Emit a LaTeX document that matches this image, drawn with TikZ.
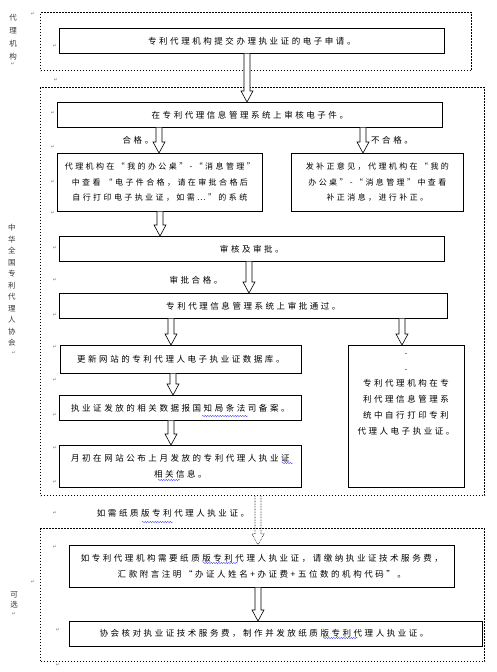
\documentclass[tikz,border=0pt]{standalone}
\usepackage{fontspec}
\setmainfont{Noto Sans CJK SC}[LetterSpace=30]
\newfontfamily\pmfont{DejaVu Sans}
\usetikzlibrary{calc,decorations.pathmorphing}
\newcommand\harrow[4][]{\path[harr,#1] let \p1=(#2 -| #4,0), \p2=(#3 -| #4,0) in (\x1-3pt,\y1) -- (\x1-3pt,\y2+11pt) -- (\x1-6pt,\y2+11pt) -- (\x2,\y2) -- (\x1+6pt,\y2+11pt) -- (\x1+3pt,\y2+11pt) -- (\x1+3pt,\y1);}
\begin{document}
\begin{tikzpicture}[x=1pt,y=-1pt,
  box/.style={draw, line width=0.7pt, inner sep=0pt, anchor=north west, font=\fontsize{8.5}{16}\selectfont, align=center},
  smallbox/.style={box, font=\fontsize{8}{15.5}\selectfont},
  txt/.style={font=\fontsize{8.5}{16}\selectfont, align=center, inner sep=0pt},
  grp/.style={draw, line width=1.4pt, dash pattern=on 1.4pt off 1.6pt, inner sep=0pt, anchor=north west},
  lbl/.style={font=\fontsize{7.5}{11.5}\selectfont, align=center, inner sep=0pt, text=black!80},
  pm/.style={font=\pmfont\fontsize{5}{5}\selectfont, text=black!50, inner sep=0pt},
  harr/.style={draw, line width=0.6pt, fill=white},
  wavy/.style={draw=blue!70, line width=0.4pt, decorate, decoration={snake, amplitude=0.7pt, segment length=2.5pt}}
]
\useasboundingbox (0,0) rectangle (497,672);
% groups
\node[grp, minimum width=431, minimum height=58] (g1) at (40,12) {};
\node[grp, minimum width=444, minimum height=408] (g2) at (40,87) {};
\node[grp, minimum width=444, minimum height=133] (g3) at (40,528) {};
% side labels
\node[lbl, font=\fontsize{7.5}{13}\selectfont] (v1) at (13,37) {代\\理\\机\\构};
\node[lbl] (v2) at (12,285.5) {中\\华\\全\\国\\专\\利\\代\\理\\人\\协\\会};
\node[lbl, font=\fontsize{7.5}{10}\selectfont] (v3) at (14,600) {可\\选};
% boxes
\node[box, minimum width=385, minimum height=25] (b1) at (59,28) {专利代理机构提交办理执业证的电子申请。};
\node[box, minimum width=385, minimum height=25] (b2) at (57,102) {在专利代理信息管理系统上审核电子件。};
\node[smallbox, minimum width=205, minimum height=58] (b3) at (57,153) {代理机构在“我的办公桌”-“消息管理”\\中查看 “电子件合格，请在审批合格后\\自行打印电子执业证，如需…”的系统};
\node[smallbox, minimum width=172, minimum height=58] (b3r) at (291,153) {发补正意见，代理机构在“我的\\办公桌”-“消息管理”中查看\\补正消息，进行补正。};
\node[box, minimum width=385, minimum height=25] (b4) at (59,236) {审核及审批。};
\node[box, minimum width=388, minimum height=25] (b5) at (59,293) {专利代理信息管理系统上审批通过。};
\node[box, minimum width=241, minimum height=28] (b6) at (60,345) {更新网站的专利代理人电子执业证数据库。};
\node[box, minimum width=116, minimum height=142] (r2) at (348,345) {};
\node[txt, anchor=north] (r2t) at (406,353) {.\\.\\专利代理机构在专\\利代理信息管理系\\统中自行打印专利\\代理人电子执业证。};
\node[box, minimum width=242, minimum height=25] (b7) at (59,395) {执业证发放的相关数据报国知局条法司备案。};
\node[box, minimum width=242, minimum height=42] (b8) at (59,445) {月初在网站公布上月发放的专利代理人执业证\\相关信息。};
\node[box, minimum width=385, minimum height=42] (b9) at (69,545) {如专利代理机构需要纸质版专利代理人执业证，请缴纳执业证技术服务费，\\汇款附言注明“办证人姓名+办证费+五位数的机构代码”。};
\node[box, minimum width=413, minimum height=25] (b10) at (69,621) {};
\node[txt] (b10t) at (264,633.5) {协会核对执业证技术服务费，制作并发放纸质版专利代理人执业证。};
% arrow labels
\node[txt] (l1) at (138,140) {合格。};
\node[txt] (l2) at (392,140) {不合格。};
\node[txt] (l3) at (196,280) {审批合格。};
\node[txt] (l4) at (173,513) {如需纸质版专利代理人执业证。};
% arrows
\harrow{b1.south}{b2.north}{247}
\harrow{b2.south}{b3.north}{159}
\harrow{b2.south}{b3r.north}{363}
\harrow{b3.south}{b4.north}{160}
\harrow{b4.south}{b5.north}{249}
\harrow{b5.south}{b6.north}{171}
\harrow{b5.south}{r2.north}{402}
\harrow{b6.south}{b7.north}{173}
\harrow{b7.south}{b8.north}{171}
\harrow[densely dotted, fill=none]{g2.south}{b9.north}{258}
\harrow{b9.south}{b10.north}{258}
% spelling marks
\draw[wavy] (202,416) -- (248,416);
\draw[wavy] (282,463) -- (293,463);
\draw[wavy] (158,480) -- (180,480);
\draw[wavy] (142,522) -- (173,522);
\draw[wavy] (203,563) -- (238,563);
\draw[wavy] (323,638) -- (358,638);
% paragraph marks
\foreach \x/\y [count=\i] in {33/14,55/46,56/80,53/113,53/147,53/182,53/213,55/248,55/280,55/315,55/347,55/380,55/415,55/448,55/482,55/513,55/547,33/582,58/630,58/665,13/64,14/353,14/614}
  \node[pm] (pm\i) at (\x,\y) {↵};
\end{tikzpicture}
\end{document}
